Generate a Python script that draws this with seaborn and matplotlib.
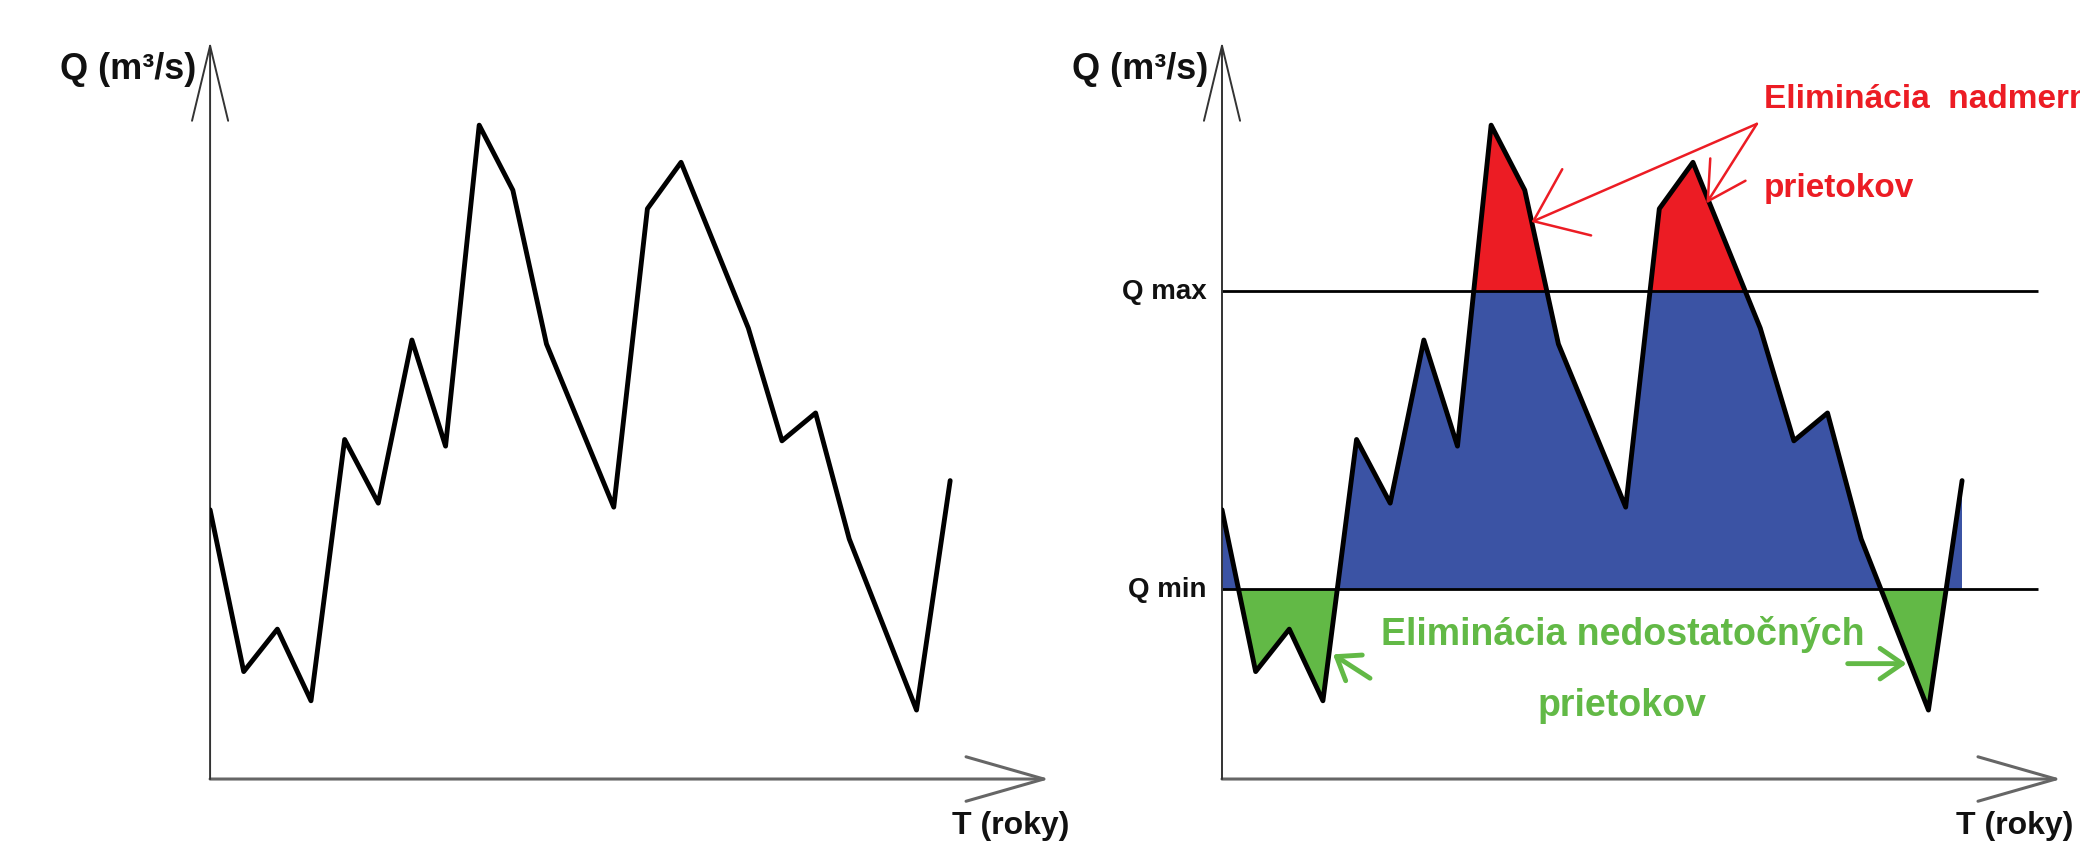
import numpy as np
import pandas as pd
import matplotlib
matplotlib.use("Agg")
import matplotlib.pyplot as plt
import seaborn as sns

# discharge hydrograph (arbitrary units)
T_YEARS = [0, 1, 2, 3, 4, 5, 6, 7, 8, 9, 10, 12, 13, 14, 16, 17, 18, 19, 21, 22]
Q_FLOW = [20.3, 8.1, 11.3, 5.9, 25.6, 20.8, 33.1, 25.1, 49.3, 44.4,
          32.8, 20.5, 43.0, 46.5, 34.0, 25.5, 27.6, 18.1, 5.2, 22.5]
Q_MAX = 36.8
Q_MIN = 14.3

Y_LABEL = "Q (m³/s)"
X_LABEL = "T (roky)"
QMAX_LABEL = "Q max"
QMIN_LABEL = "Q min"
RED_TEXT = ["Eliminácia  nadmerných", "prietokov"]
GREEN_TEXT = ["Eliminácia nedostatočných", "prietokov"]

BLUE = "#3b53a4"
RED = "#ec1c24"
GREEN = "#62b946"

sns.set_theme(style="white")
plt.rcParams["font.family"] = ["Liberation Sans", "DejaVu Sans"]

df = pd.DataFrame({"T": T_YEARS, "Q": Q_FLOW})
x = df["T"].to_numpy(float)
y = df["Q"].to_numpy(float)

fig = plt.figure(figsize=(20.8, 8.62), dpi=100)
ax_l = fig.add_axes([0.101, 0.0951, 0.4205, 0.877])
ax_r = fig.add_axes([0.5875, 0.0951, 0.4205, 0.877])


def draw_axes(ax, xlabel_x):
    ax.set_xlim(0, 26)
    ax.set_ylim(0, 57)
    ax.set_axis_off()
    # open-headed arrows for both axes
    ax.annotate("", xy=(24.95, 0), xytext=(0, 0), annotation_clip=False,
                arrowprops=dict(arrowstyle="->,head_length=5.6,head_width=1.6",
                                mutation_scale=10, color="#666666", lw=2.2,
                                shrinkA=0, shrinkB=0))
    ax.annotate("", xy=(0, 55.6), xytext=(0, 0), annotation_clip=False,
                arrowprops=dict(arrowstyle="->,head_length=5.4,head_width=1.3",
                                mutation_scale=10, color="#333333", lw=1.4,
                                shrinkA=0, shrinkB=0))
    ax.text(-0.4, 53.6, Y_LABEL, ha="right", va="center", fontsize=26,
            fontweight="bold", color="#111111")
    ax.text(xlabel_x, -3.5, X_LABEL, ha="right", va="center", fontsize=23,
            fontweight="bold", color="#111111", clip_on=False)


# left: raw hydrograph
draw_axes(ax_l, 25.55)
sns.lineplot(data=df, x="T", y="Q", ax=ax_l, color="black", lw=3.5, zorder=3)
ax_l.set_axis_off()

# right: hydrograph with eliminated peaks and lows
draw_axes(ax_r, 25.3)
ax_r.fill_between(x, Q_MIN, y, where=y > Q_MIN, interpolate=True, color=BLUE, lw=0, zorder=1)
ax_r.fill_between(x, Q_MAX, y, where=y > Q_MAX, interpolate=True, color=RED, lw=0, zorder=1.5)
ax_r.fill_between(x, y, Q_MIN, where=y < Q_MIN, interpolate=True, color=GREEN, lw=0, zorder=1)
ax_r.hlines([Q_MAX, Q_MIN], 0, 24.25, color="black", lw=2, zorder=2)
sns.lineplot(data=df, x="T", y="Q", ax=ax_r, color="black", lw=3.5, zorder=3)
ax_r.set_axis_off()

ax_r.text(-0.45, Q_MAX, QMAX_LABEL, ha="right", va="center", fontsize=20,
          fontweight="bold", color="#111111")
ax_r.text(-0.45, Q_MIN, QMIN_LABEL, ha="right", va="center", fontsize=20,
          fontweight="bold", color="#111111")

# red note + arrows (text runs off the right edge as in the source figure)
ax_r.text(16.1, 51.3, RED_TEXT[0], ha="left", va="center", fontsize=24,
          fontweight="bold", color=RED, clip_on=False)
ax_r.text(16.1, 44.6, RED_TEXT[1], ha="left", va="center", fontsize=24,
          fontweight="bold", color=RED, clip_on=False)
ax_r.annotate("", xy=(9.2, 42.0), xytext=(15.9, 49.4),
              arrowprops=dict(arrowstyle="->,head_length=3.4,head_width=2.6",
                              mutation_scale=10, color=RED, lw=1.8, shrinkA=0, shrinkB=0))
ax_r.annotate("", xy=(14.4, 43.4), xytext=(15.9, 49.4),
              arrowprops=dict(arrowstyle="->,head_length=2.7,head_width=1.5",
                              mutation_scale=10, color=RED, lw=1.8, shrinkA=0, shrinkB=0))

# green note + arrows
ax_r.text(11.9, 11.0, GREEN_TEXT[0], ha="center", va="center", fontsize=27,
          fontweight="bold", color=GREEN)
ax_r.text(11.9, 5.6, GREEN_TEXT[1], ha="center", va="center", fontsize=27,
          fontweight="bold", color=GREEN)
ax_r.annotate("", xy=(3.3, 9.4), xytext=(4.4, 7.6),
              arrowprops=dict(arrowstyle="->,head_length=1.5,head_width=1.1",
                              mutation_scale=10, color=GREEN, lw=3.5, shrinkA=0, shrinkB=0))
ax_r.annotate("", xy=(20.35, 8.7), xytext=(18.6, 8.7),
              arrowprops=dict(arrowstyle="->,head_length=1.6,head_width=1.1",
                              mutation_scale=10, color=GREEN, lw=3.5, shrinkA=0, shrinkB=0))

fig.savefig("out.png", dpi=100)
